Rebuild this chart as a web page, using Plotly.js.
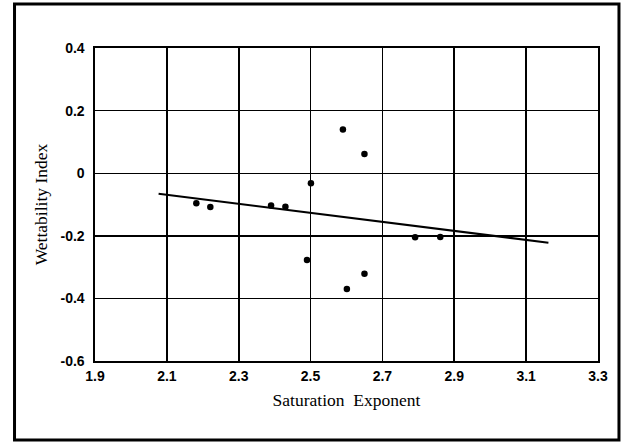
<!DOCTYPE html>
<html>
<head>
<meta charset="utf-8">
<script src="https://cdn.plot.ly/plotly-3.0.1.min.js"></script>
<style>
html,body{margin:0;padding:0;background:#fff;}
#chart{width:626px;height:442px;}
</style>
</head>
<body>
<div id="chart"></div>
<script>
// Data points: saturation exponent vs wettability index
const satExponent = [2.182, 2.221, 2.390, 2.430, 2.501, 2.590, 2.650, 2.490, 2.650, 2.601, 2.791, 2.861];
const wettIndex   = [-0.096, -0.108, -0.103, -0.107, -0.032, 0.140, 0.061, -0.277, -0.321, -0.370, -0.205, -0.204];
// Trend line end points
const trendX = [2.077, 3.162];
const trendY = [-0.066, -0.222];
// Tick labels
const xTickVals = [1.9, 2.1, 2.3, 2.5, 2.7, 2.9, 3.1, 3.3];
const xTickText = ["1.9", "2.1", "2.3", "2.5", "2.7", "2.9", "3.1", "3.3"];
const yTickVals = [-0.6, -0.4, -0.2, 0, 0.2, 0.4];
const yTickText = ["-0.6", "-0.4", "-0.2", "0", "0.2", "0.4"];

const traces = [
  {
    x: trendX, y: trendY, type: 'scatter', mode: 'lines',
    line: {color: '#000', width: 2}, hoverinfo: 'skip', showlegend: false
  },
  {
    x: satExponent, y: wettIndex, type: 'scatter', mode: 'markers',
    marker: {color: '#000', size: 6.5}, showlegend: false
  }
];

const tickFont = {family: 'Liberation Sans, Arial, sans-serif', size: 14, color: '#000', weight: 700};
const titleFont = {family: 'Liberation Serif, Times New Roman, serif', size: 17.5, color: '#000'};

const layout = {
  width: 626, height: 442,
  margin: {l: 94.5, r: 28, t: 48, b: 81, pad: 0},
  paper_bgcolor: '#fff', plot_bgcolor: '#fff',
  xaxis: {
    range: [1.9, 3.3], tickvals: xTickVals, ticktext: xTickText,
    showgrid: true, gridcolor: '#000', gridwidth: 1.6,
    zeroline: false, showline: true, linecolor: '#000', linewidth: 1.6, mirror: true,
    ticks: '', tickfont: tickFont, ticklabelstandoff: 2,
    title: {text: 'Saturation&nbsp;&nbsp;Exponent', font: titleFont, standoff: 10}
  },
  yaxis: {
    range: [-0.6, 0.4], tickvals: yTickVals, ticktext: yTickText,
    showgrid: true, gridcolor: '#000', gridwidth: 1.4,
    zeroline: false, showline: true, linecolor: '#000', linewidth: 1.6, mirror: true,
    ticks: '', tickfont: tickFont, ticklabelstandoff: 6,
    title: {text: 'Wettability Index', font: titleFont, standoff: 8}
  },
  shapes: [
    {type: 'rect', xref: 'paper', yref: 'paper',
     x0: -0.160, x1: 1.0417, y0: -0.2524, y1: 1.1406,
     line: {color: '#000', width: 3}, fillcolor: 'rgba(0,0,0,0)', layer: 'below'}
  ]
};

Plotly.newPlot('chart', traces, layout, {displayModeBar: false, staticPlot: true});
</script>
</body>
</html>
